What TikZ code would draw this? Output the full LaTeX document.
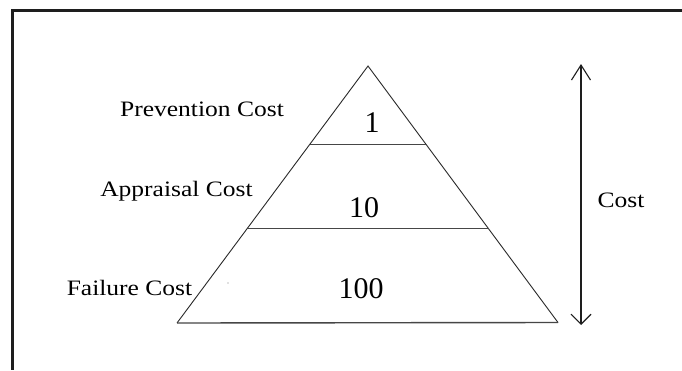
\documentclass[tikz,border=0pt]{standalone}
\usepackage{fontspec}
\setmainfont{Liberation Serif}
\usetikzlibrary{arrows.meta}
\begin{document}
\begin{tikzpicture}[x=1pt,y=-1pt,
  frameline/.style={line width=2.6pt,draw={rgb,255:red,30;green,30;blue,30}},
  edge/.style={line width=0.9pt,draw={rgb,255:red,40;green,40;blue,40}},
  tier/.style={line width=1.4pt,draw={rgb,255:red,70;green,70;blue,70}},
  label/.style={anchor=base,inner sep=0pt,font=\fontsize{22}{26}\selectfont,xscale=1.16,transform shape},
  value/.style={anchor=base,inner sep=0pt,font=\fontsize{30}{34}\selectfont}]
\useasboundingbox (0,0) rectangle (682,370);
\fill[white] (0,0) rectangle (682,370);

% frame on the top and left
\coordinate (fTL) at (12.5,10.5);
\coordinate (fTR) at (682,10.5);
\coordinate (fBL) at (12.5,370);
\draw[frameline] (fTR) -- (fTL) -- (fBL);

% pyramid outline
\coordinate (apex) at (368,66);
\coordinate (baseL) at (177,323);
\coordinate (baseR) at (558,322.5);
\draw[edge] (baseL) -- (apex) -- (baseR);
\draw[tier] (baseL) -- (baseR);

% tier dividers
\coordinate (t1L) at (310,144.5);
\coordinate (t1R) at (426.5,144.5);
\coordinate (t2L) at (247.5,228.5);
\coordinate (t2R) at (488.5,228.5);
\draw[tier] (t1L) -- (t1R);
\draw[tier] (t2L) -- (t2R);

% tier values
\node[value] (v1) at (372,132) {1};
\node[value] (v2) at (364,217) {10};
\node[value] (v3) at (361,298) {100};

% tier names
\node[label] (prev) at (202,116) {Prevention Cost};
\node[label] (appr) at (176.5,196.5) {Appraisal Cost};
\node[label] (fail) at (129.5,295) {Failure Cost};

% stray mark inside the base tier
\fill[gray] (228,283) circle (0.7pt);

% cost axis
\coordinate (axTop) at (581,64);
\coordinate (axBot) at (581,325);
\draw[line width=1.1pt,draw={rgb,255:red,30;green,30;blue,30},
  {Straight Barb[length=15pt,width=19pt,line width=1.1pt]}-{Straight Barb[length=10pt,width=20pt,line width=1.1pt]}]
  (axTop) -- (axBot);
\node[label] (cost) at (621,207) {Cost};
\end{tikzpicture}
\end{document}
